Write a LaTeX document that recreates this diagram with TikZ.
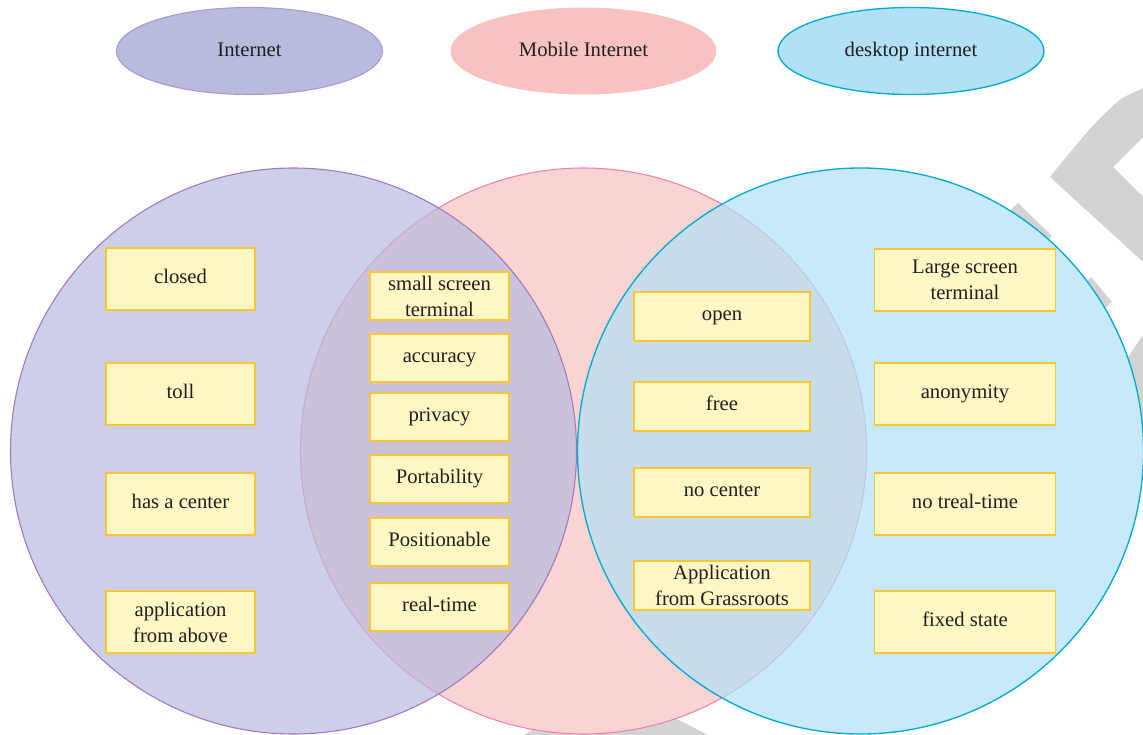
\documentclass[tikz,border=0pt]{standalone}
\usepackage{fontspec}
\setmainfont{Liberation Serif}
\usetikzlibrary{shapes.geometric}

% palette
\definecolor{inetfill}{RGB}{184,186,222}
\definecolor{inetline}{RGB}{160,120,192}
\definecolor{mobfill}{RGB}{248,194,192}
\definecolor{mobline}{RGB}{240,130,178}
\definecolor{deskfill}{RGB}{178,225,247}
\definecolor{deskline}{RGB}{0,172,214}
\definecolor{boxfill}{RGB}{255,247,196}
\definecolor{boxline}{RGB}{253,200,47}
\definecolor{ink}{RGB}{35,31,32}
\definecolor{wmark}{RGB}{211,211,211}

\newcommand{\lblfont}{\fontsize{15.5}{19.5}\selectfont}

\tikzset{
  setdisc/.style={fill opacity=0.7, line width=0.8pt},
  oneline/.style={text height=0.8em, text depth=0.15em},
  titleoval/.style={ellipse, inner sep=0pt, minimum width=199.5pt,
    minimum height=65.25pt, line width=0.8pt, text=ink, font=\lblfont,
    text height=0.95em, text depth=0.12em},
  itembox/.style={draw=boxline, fill=boxfill, line width=0.9pt, inner sep=0pt,
    align=center, text=ink, font=\lblfont},
  outerbox/.style={itembox, minimum width=111.75pt, minimum height=46.5pt},
  midbox/.style={itembox, minimum width=104.25pt, minimum height=36pt},
  pairbox/.style={itembox, minimum width=132pt, minimum height=36.75pt},
  farbox/.style={itembox, minimum width=135.75pt, minimum height=46.5pt},
}

\begin{document}
\begin{tikzpicture}[x=0.75pt, y=-0.75pt]
\useasboundingbox (0,0) rectangle (1143,735);

% pale grey background mark behind the discs
\fill[wmark] (1050,177) .. controls (1072,150) and (1095,120) .. (1122,98)
  -- (1143,88) -- (1143,137) -- (1113,167) -- (1143,197) -- (1143,262) -- cycle;
\fill[wmark] (1006,214) -- (1018,203) -- (1052,236) -- (1040,246) -- cycle;
\fill[wmark] (1084,284) -- (1091,277) -- (1112,302) -- (1100,312) -- cycle;
\fill[wmark] (1118,372) -- (1143,335) -- (1143,430) -- (1118,430) -- cycle;
\fill[wmark] (524,735) -- (536,728) -- (677,719) -- (708,735) -- cycle;

% disc centres
\coordinate (cInet) at (293.5,451);
\coordinate (cMob)  at (583.5,451);
\coordinate (cDesk) at (860.5,451);

% opaque white underlay so the background mark stays outside the discs
\fill[white] (cInet) circle [radius=212.25pt];
\fill[white] (cMob)  circle [radius=212.25pt];
\fill[white] (cDesk) circle [radius=212.25pt];

% the three sets
\path[setdisc, fill=mobfill,  draw=mobline]  (cMob)  circle [radius=212.25pt];
\path[setdisc, fill=inetfill, draw=inetline] (cInet) circle [radius=212.25pt];
\path[setdisc, fill=deskfill, draw=deskline, line width=1pt] (cDesk) circle [radius=212.25pt];

% legend ovals
\node[titleoval, fill=inetfill, draw=inetline!80] (tInet) at (249.5,51) {Internet};
\node[titleoval, fill=mobfill] (tMob) at (583.5,51) {Mobile Internet};
\node[titleoval, fill=deskfill, draw=deskline, line width=1pt] (tDesk) at (911,51) {desktop internet};

% Internet only
\node[outerbox, oneline] (closed) at (180.5,279) {closed};
\node[outerbox, oneline] (toll)   at (180.5,394) {toll};
\node[outerbox, oneline] (center) at (180.5,504) {has a center};
\node[outerbox] (above)  at (180.5,622) {application\\from above};

% Internet and Mobile Internet
\node[midbox] (small)    at (439.5,296) {small screen\\terminal};
\node[midbox, oneline] (accuracy) at (439.5,358) {accuracy};
\node[midbox, oneline] (privacy)  at (439.5,417) {privacy};
\node[midbox, oneline] (portable) at (439.5,479) {Portability};
\node[midbox, oneline] (position) at (439.5,542) {Positionable};
\node[midbox, oneline] (realtime) at (439.5,607) {real-time};

% Mobile Internet and desktop internet
\node[pairbox, oneline] (open)   at (722,316.5) {open};
\node[pairbox, oneline] (free)   at (722,406.5) {free};
\node[pairbox, oneline] (nocent) at (722,492.5) {no center};
\node[pairbox] (grass)  at (722,585.5) {Application\\from Grassroots};

% desktop internet only
\node[farbox] (large)  at (965,280) {Large screen\\terminal};
\node[farbox, oneline] (anon)   at (965,394) {anonymity};
\node[farbox, oneline] (noreal) at (965,504) {no treal-time};
\node[farbox, oneline] (fixed)  at (965,622) {fixed state};
\end{tikzpicture}
\end{document}
